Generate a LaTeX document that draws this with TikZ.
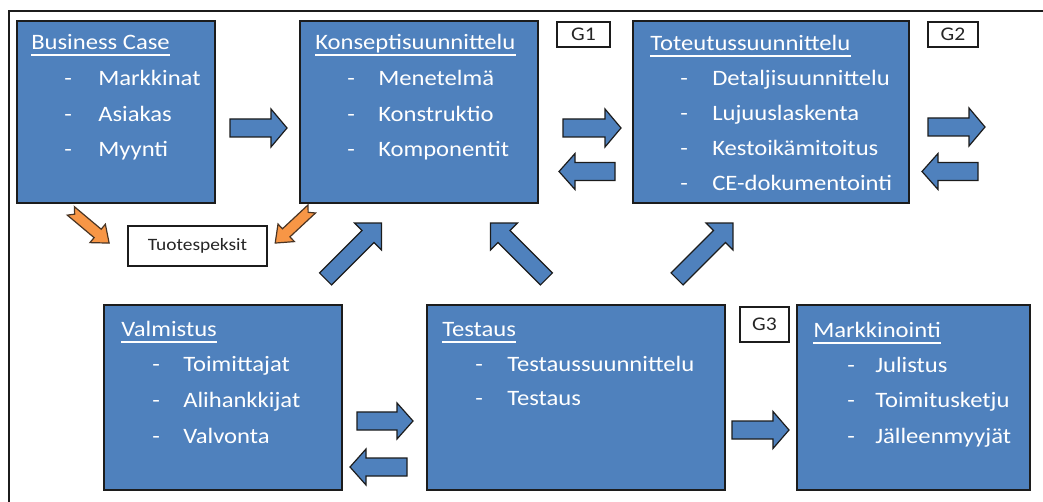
\documentclass[tikz,border=0pt]{standalone}
\usepackage{fontspec}
\setmainfont{Carlito}[FakeStretch=1.12]
\usetikzlibrary{calc,fit}
\definecolor{boxblue}{HTML}{4F81BD}
\definecolor{arrorange}{HTML}{F79646}
\definecolor{edge}{HTML}{1C1C1C}
% block arrow: style, centre, angle, length, shaft width, head width, head length
\newcommand{\blockarr}[7]{%
  \begin{scope}[shift={#2}, rotate=#3]
    \draw[#1] ({-#4/2},{-#5/2}) -- ({#4/2-#7},{-#5/2}) -- ({#4/2-#7},{-#6/2}) -- ({#4/2},0)
      -- ({#4/2-#7},{#6/2}) -- ({#4/2-#7},{#5/2}) -- ({-#4/2},{#5/2}) -- cycle;
  \end{scope}}
% notched block arrow: same + notch depth
\newcommand{\notcharr}[8]{%
  \begin{scope}[shift={#2}, rotate=#3]
    \draw[#1] ({-#4/2},{-#5/2}) -- ({#4/2-#7},{-#5/2}) -- ({#4/2-#7},{-#6/2}) -- ({#4/2},0)
      -- ({#4/2-#7},{#6/2}) -- ({#4/2-#7},{#5/2}) -- ({-#4/2},{#5/2}) -- ({-#4/2+#8},0) -- cycle;
  \end{scope}}
\newcommand{\boxtitle}[3]{%
  \node[txt] (#1) at (#2) {#3};
  \draw[uline] ($(#1.base west)+(0,5)$) -- ($(#1.base east)+(0,5)$);}
\newcommand{\boxitem}[5]{%
  \node[txt] (#1d) at (#2,#4) {-};
  \node[txt] (#1) at (#3,#4) {#5};}
\newcommand{\tag}[4]{%
  \node[tagbox, fit={#2}] (#1) {};
  \node[tagtext, #4] (#1t) at (#1.center) {#3};}
\begin{document}
\begin{tikzpicture}[x=0.75pt,y=-0.75pt,
  bluebox/.style={draw=edge, line width=1.3pt, fill=boxblue, inner sep=0pt},
  tagbox/.style={draw=edge, line width=1.3pt, fill=white, inner sep=0pt},
  tagtext/.style={inner sep=0pt, font=\fontsize{13}{15}\selectfont, text=black!85},
  gtext/.style={font=\fontsize{14.5}{16}\selectfont},
  txt/.style={text=white, inner sep=0pt, anchor=base west,
    font=\fontsize{16.5}{18}\selectfont},
  uline/.style={draw=white, line width=1.1pt},
  bluearr/.style={draw=edge, line width=0.9pt, fill=boxblue, line join=miter},
  orangearr/.style={draw=edge!80!arrorange, line width=0.9pt, fill=arrorange, line join=miter}]

\useasboundingbox (0,0) rectangle (1043,502);
\draw[line width=1.5pt, edge] (9,506) -- (9,11) -- (1048,11);

% ---- boxes
\node[bluebox, fit={(17,21) (215,203)}] (bc) {};
\node[bluebox, fit={(300,21) (538,203)}] (ks) {};
\node[bluebox, fit={(633,21) (909,203)}] (tt) {};
\node[bluebox, fit={(104,305) (342,490)}] (vm) {};
\node[bluebox, fit={(427,305) (725,490)}] (te) {};
\node[bluebox, fit={(797,305) (1030,490)}] (mk) {};

\tag{g1}{(557,22) (610,47)}{G1}{gtext}
\tag{g2}{(928,22) (978,47)}{G2}{gtext}
\tag{g3}{(740,307) (789,342)}{G3}{gtext}
\tag{spec}{(128,226) (267,266)}{Tuotespeksit}{}

% ---- texts
\boxtitle{bct}{31,50}{Business Case}
\boxitem{bc1}{64}{98}{86}{Markkinat}
\boxitem{bc2}{64}{98}{122}{Asiakas}
\boxitem{bc3}{64}{98}{157}{Myynti}

\boxtitle{kst}{315,50}{Konseptisuunnittelu}
\boxitem{ks1}{347}{378}{86}{Menetelmä}
\boxitem{ks2}{347}{378}{122}{Konstruktio}
\boxitem{ks3}{347}{378}{157}{Komponentit}

\boxtitle{ttt}{650,51}{Toteutussuunnittelu}
\boxitem{tt1}{680}{712}{86}{Detaljisuunnittelu}
\boxitem{tt2}{680}{712}{121}{Lujuuslaskenta}
\boxitem{tt3}{680}{712}{156}{Kestoikämitoitus}
\boxitem{tt4}{680}{712}{191}{CE-dokumentointi}

\boxtitle{vmt}{121,337}{Valmistus}
\boxitem{vm1}{152}{183}{372}{Toimittajat}
\boxitem{vm2}{152}{183}{407}{Alihankkijat}
\boxitem{vm3}{152}{183}{443}{Valvonta}

\boxtitle{tet}{442,337}{Testaus}
\boxitem{te1}{475}{507}{372}{Testaussuunnittelu}
\boxitem{te2}{475}{507}{406}{Testaus}

\boxtitle{mkt}{813,338}{Markkinointi}
\boxitem{mk1}{847}{875}{373}{Julistus}
\boxitem{mk2}{847}{875}{407}{Toimitusketju}
\boxitem{mk3}{847}{875}{443}{Jälleenmyyjät}

% ---- block arrows
\blockarr{bluearr}{(258.5,128)}{0}{57}{18}{38}{16}
\blockarr{bluearr}{(592,128)}{0}{58}{18}{38}{16}
\blockarr{bluearr}{(587,171.5)}{180}{56}{18}{36}{16}
\blockarr{bluearr}{(956.5,127)}{0}{57}{18}{38}{16}
\blockarr{bluearr}{(950,171.5)}{180}{56}{18}{36}{16}
\blockarr{bluearr}{(385,421)}{0}{56}{18}{36}{16}
\blockarr{bluearr}{(378.5,467)}{180}{57}{18}{36}{16}
\blockarr{bluearr}{(760.5,430)}{0}{57}{18}{37}{16}

\blockarr{bluearr}{(353.5,251)}{45}{79}{17}{38}{19}
\blockarr{bluearr}{(518.5,251)}{135}{79}{17}{38}{19}
\blockarr{bluearr}{(705,251)}{45}{79}{17}{38}{19}

\notcharr{orangearr}{(90,227)}{-40}{50}{11}{24}{15}{5}
\notcharr{orangearr}{(293.5,226)}{-137}{50}{11}{24}{15}{5}
\end{tikzpicture}
\end{document}
